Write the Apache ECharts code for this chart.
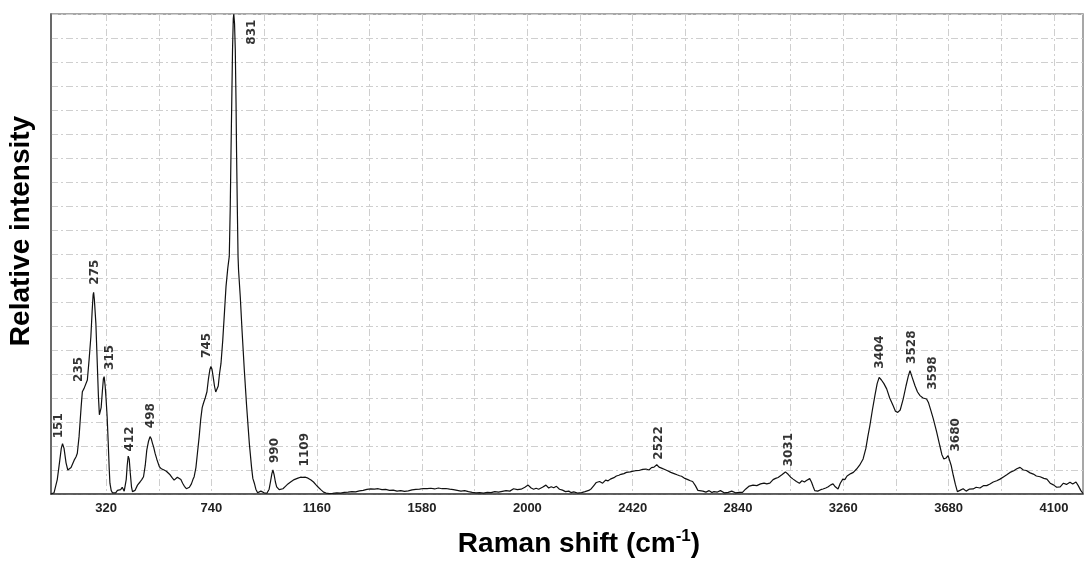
<!DOCTYPE html>
<html>
<head>
<meta charset="utf-8">
<script src="https://cdn.jsdelivr.net/npm/echarts@6/dist/echarts.min.js"></script>
<style>
html,body{margin:0;padding:0;background:#fff;}
#chart{width:1084px;height:561px;}
</style>
</head>
<body>
<div id="chart"></div>
<script>
// Raman shift (cm-1) and relative intensity
const ramanShift = [100,112,125,135,141,146,152,160,167,172,180,192,200,205,212,220,225,232,238,245,252,259,264,268,270,273,276,279,284,289,293,296,300,305,309,312,316,320,324,328,332,335,340,345,352,358,365,370,378,384,388,392,396,400,404,408,412,416,421,425,429,435,445,455,462,469,476,482,489,495,500,505,509,515,522,532,540,551,560,567,575,583,591,598,604,611,618,625,632,640,645,652,660,666,671,678,684,691,697,703,708,715,722,728,734,738,742,748,752,757,762,767,772,778,785,792,798,805,811,815,818,821,824,827,829,832,835,838,840,843,846,848,855,862,871,880,891,900,905,911,917,924,931,937,943,950,961,970,976,981,985,990,995,1000,1004,1010,1017,1025,1035,1045,1057,1070,1085,1095,1104,1115,1125,1137,1147,1157,1167,1177,1187,1197,1210,1223,1240,1255,1270,1285,1300,1315,1330,1345,1360,1375,1390,1405,1420,1435,1450,1465,1480,1495,1510,1525,1540,1555,1570,1585,1600,1615,1630,1645,1660,1675,1690,1705,1720,1735,1750,1765,1780,1795,1810,1825,1840,1855,1870,1885,1900,1915,1930,1945,1960,1975,1990,2003,2015,2025,2035,2045,2060,2074,2085,2095,2105,2116,2128,2140,2152,2165,2174,2185,2200,2216,2230,2245,2255,2265,2275,2288,2300,2312,2322,2331,2345,2355,2365,2373,2385,2395,2410,2422,2431,2445,2460,2473,2485,2495,2505,2516,2525,2535,2548,2559,2572,2585,2597,2607,2615,2628,2640,2650,2659,2670,2680,2687,2700,2712,2725,2736,2744,2758,2770,2785,2801,2815,2830,2845,2858,2870,2885,2900,2915,2930,2944,2955,2967,2980,2990,3000,3015,3029,3040,3050,3060,3073,3085,3095,3105,3113,3120,3126,3133,3140,3146,3158,3170,3179,3190,3200,3210,3219,3228,3239,3248,3258,3266,3275,3290,3300,3313,3325,3339,3350,3358,3366,3376,3386,3395,3403,3412,3422,3433,3445,3458,3468,3477,3487,3499,3510,3519,3526,3535,3546,3556,3566,3578,3585,3592,3600,3610,3619,3632,3645,3653,3661,3670,3678,3683,3690,3699,3707,3715,3725,3738,3750,3762,3778,3790,3805,3820,3832,3845,3858,3872,3885,3900,3912,3925,3940,3952,3965,3978,3990,4005,4018,4030,4045,4060,4072,4085,4098,4111,4125,4138,4150,4164,4175,4188,4197,4207,4216];
const intensity = [0.0,0.05,0.6,1.4,1.9,2.1,1.9,1.3,1.0,0.93,1.1,1.4,1.55,1.7,2.4,3.6,4.26,4.4,4.45,4.75,5.6,6.55,7.6,8.3,8.4,8.1,7.6,7.1,5.6,4.1,3.3,3.25,3.6,4.3,4.8,4.89,4.5,3.9,3.2,2.2,1.1,0.45,0.15,0.05,0.1,0.05,0.15,0.08,0.18,0.28,0.3,0.12,0.15,0.6,1.2,1.58,1.45,0.9,0.3,0.1,0.05,0.15,0.37,0.5,0.6,0.72,1.2,1.83,2.2,2.39,2.3,2.1,1.97,1.7,1.45,1.14,1.05,1.0,0.95,0.93,0.8,0.68,0.58,0.62,0.7,0.72,0.6,0.45,0.32,0.22,0.21,0.28,0.42,0.6,0.72,1.1,1.7,2.39,3.1,3.6,3.78,4.0,4.26,4.8,5.2,5.31,5.2,4.8,4.5,4.25,4.17,4.5,5.0,5.44,6.4,7.6,8.64,9.4,9.9,12.0,14.3,16.4,18.5,19.8,20,19.6,18.5,16.3,14.3,12.0,9.9,9.33,8.2,6.8,5.17,3.7,2.11,1.1,0.65,0.45,0.2,0.05,0.12,0.12,0.1,0.05,0.03,0.2,0.55,0.85,1.0,0.8,0.5,0.3,0.24,0.18,0.17,0.22,0.32,0.42,0.51,0.6,0.66,0.7,0.69,0.7,0.66,0.58,0.5,0.38,0.27,0.17,0.08,0.04,0.02,0.03,0.05,0.04,0.07,0.08,0.1,0.09,0.13,0.15,0.19,0.21,0.2,0.22,0.18,0.19,0.15,0.16,0.12,0.14,0.11,0.13,0.17,0.19,0.2,0.23,0.22,0.24,0.21,0.25,0.22,0.23,0.2,0.18,0.15,0.12,0.14,0.1,0.07,0.05,0.06,0.04,0.07,0.06,0.1,0.08,0.11,0.14,0.12,0.22,0.18,0.2,0.28,0.37,0.25,0.2,0.24,0.2,0.28,0.37,0.25,0.3,0.26,0.32,0.2,0.16,0.1,0.12,0.06,0.09,0.04,0.06,0.1,0.15,0.22,0.35,0.48,0.52,0.45,0.58,0.55,0.62,0.68,0.75,0.78,0.82,0.85,0.9,0.92,0.95,0.97,0.98,1.03,1.04,1.0,1.1,1.12,1.22,1.12,1.08,1.02,0.97,0.9,0.85,0.8,0.76,0.74,0.65,0.6,0.55,0.52,0.35,0.15,0.07,0.12,0.08,0.14,0.06,0.1,0.08,0.14,0.05,0.07,0.12,0.05,0.07,0.07,0.2,0.33,0.37,0.35,0.42,0.45,0.42,0.45,0.6,0.65,0.69,0.8,0.92,0.82,0.7,0.62,0.52,0.45,0.55,0.5,0.56,0.48,0.64,0.5,0.3,0.14,0.12,0.18,0.21,0.25,0.3,0.38,0.42,0.3,0.21,0.45,0.62,0.6,0.75,0.85,0.9,1.04,1.2,1.46,1.9,2.4,2.85,3.5,4.1,4.6,4.86,4.75,4.6,4.38,4.0,3.7,3.45,3.4,3.5,3.96,4.5,4.9,5.14,4.85,4.51,4.25,4.1,4.0,4.05,3.96,3.8,3.45,3.13,2.6,2.01,1.65,1.46,1.5,1.6,1.57,1.2,0.76,0.4,0.1,0.15,0.22,0.12,0.2,0.21,0.28,0.25,0.35,0.35,0.42,0.5,0.55,0.62,0.72,0.8,0.9,0.97,1.05,1.11,1.0,0.98,0.88,0.83,0.75,0.72,0.65,0.62,0.45,0.38,0.28,0.3,0.45,0.4,0.49,0.42,0.5,0.35,0.15,0.02];

// Peak annotations: text and where each label starts (x, y of its lower end)
const peakLabels = ['151','235','275','315','412','498','745','831','990','1109','2522','3031','3404','3528','3598','3680'];
const peakLabelX = [130,210,274,334,414,500,720,900,993,1112,2523,3042,3405,3533,3617,3707];
const peakLabelY = [2.3,4.65,8.7,5.15,1.75,2.72,5.65,18.7,1.27,1.13,1.41,1.13,5.2,5.4,4.32,1.75];

// Axis ticks
const xTickLabels = [320,740,1160,1580,2000,2420,2840,3260,3680,4100];
const xGridValues = [320,530,740,950,1160,1370,1580,1790,2000,2210,2420,2630,2840,3050,3260,3470,3680,3890,4100];

const spectrum = ramanShift.map((x, i) => [x, intensity[i]]);
const labelPoints = peakLabels.map((t, i) => ({ value: [peakLabelX[i], peakLabelY[i]], name: t }));

const gridDash = { color: '#cfcfcf', width: 1, type: [7, 3, 2, 3] };

const chart = echarts.init(document.getElementById('chart'), null, { renderer: 'canvas' });
chart.setOption({
  animation: false,
  backgroundColor: '#ffffff',
  grid: { left: 51, right: 1, top: 14, bottom: 67, outerBoundsMode: 'none', containLabel: false, show: true, borderColor: '#8a8a8a', borderWidth: 1.5, backgroundColor: 'transparent' },
  xAxis: {
    type: 'value',
    min: 100,
    max: 4216,
    name: '{a|Raman shift (cm}{s|-1}{a|)}',
    nameLocation: 'middle',
    nameGap: 34,
    nameTextStyle: {
      padding: [0, 0, 0, 24],
      rich: {
        a: { fontFamily: 'Liberation Sans', fontWeight: 'bold', fontSize: 28, color: '#000', lineHeight: 32 },
        s: { fontFamily: 'Liberation Sans', fontWeight: 'bold', fontSize: 17, color: '#000', verticalAlign: 'top', lineHeight: 32 }
      }
    },
    axisLine: { show: true, lineStyle: { color: '#444', width: 1.5 } },
    axisTick: { show: false, customValues: xGridValues },
    axisLabel: { customValues: xTickLabels, formatter: v => String(v), fontFamily: 'Liberation Sans', fontWeight: 'bold', fontSize: 13, color: '#222', margin: 8 },
    splitLine: { show: true, lineStyle: gridDash }
  },
  yAxis: {
    type: 'value',
    min: 0,
    max: 20,
    interval: 1,
    name: 'Relative intensity',
    nameLocation: 'middle',
    nameGap: 16,
    nameTextStyle: { fontFamily: 'Liberation Sans', fontWeight: 'bold', fontSize: 28, color: '#000', padding: [0, 0, 0, 46] },
    axisLine: { show: true, lineStyle: { color: '#555', width: 1.5 } },
    axisTick: { show: false },
    axisLabel: { show: false },
    splitLine: { show: true, lineStyle: gridDash }
  },
  series: [
    {
      type: 'line',
      data: spectrum,
      symbol: 'none',
      clip: true,
      lineStyle: { color: '#111', width: 1.2 },
      z: 3
    },
    {
      type: 'scatter',
      data: labelPoints,
      symbolSize: 1,
      itemStyle: { color: 'rgba(0,0,0,0)' },
      label: {
        show: true,
        formatter: p => p.name,
        position: 'top',
        distance: 0,
        rotate: 90,
        align: 'left',
        verticalAlign: 'middle',
        fontFamily: 'DejaVu Sans',
        fontWeight: 'bold',
        fontSize: 12,
        color: '#000'
      },
      z: 4
    }
  ]
});
</script>
</body>
</html>
